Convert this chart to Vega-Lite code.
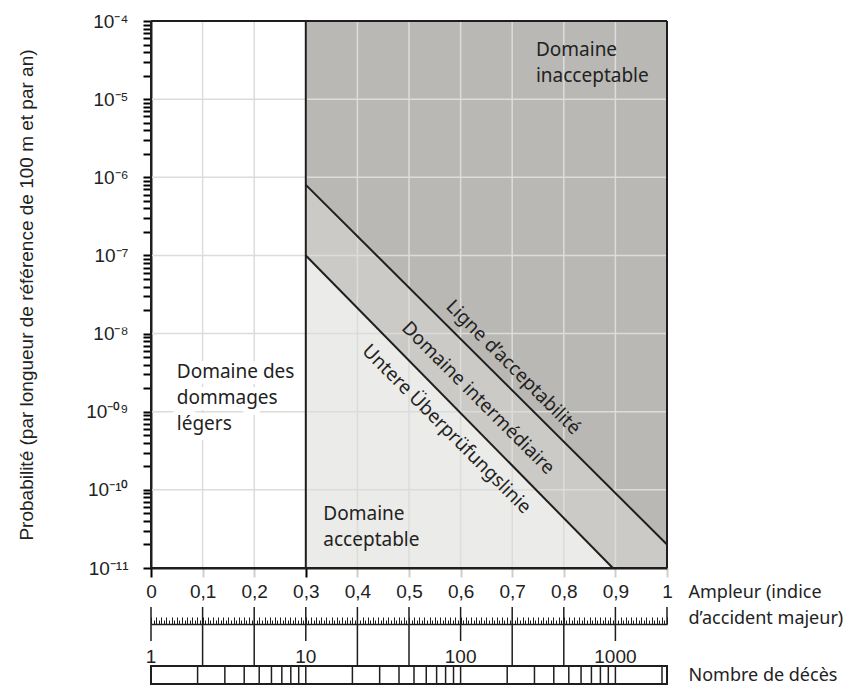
{
  "$schema": "https://vega.github.io/schema/vega-lite/v6.json",
  "background": "white",
  "padding": {"left": 17, "top": 12, "right": 0, "bottom": 0},
  "spacing": 39,
  "bounds": "flush",
  "datasets": {
    "zones": [{"zone": "Domaine inacceptable", "from": 0.3, "to": 1}],
    "scale": [
      {"index": 0, "kind": "decade"}, {"index": 0.1, "kind": "tenth"}, {"index": 0.2, "kind": "tenth"},
      {"index": 0.3, "kind": "decade"}, {"index": 0.4, "kind": "tenth"}, {"index": 0.5, "kind": "tenth"},
      {"index": 0.6, "kind": "decade"}, {"index": 0.7, "kind": "tenth"}, {"index": 0.8, "kind": "tenth"},
      {"index": 0.9, "kind": "decade"}, {"index": 1, "kind": "end"}
    ],
    "decades": [{"p": 1e-11}, {"p": 1e-10}, {"p": 1e-9}, {"p": 1e-8}, {"p": 1e-7}, {"p": 1e-6}, {"p": 1e-5}, {"p": 1e-4}],
    "lines": [
      {"line": "Ligne d’acceptabilité", "index": 0.3, "p": 8e-7},
      {"line": "Ligne d’acceptabilité", "index": 1, "p": 2e-11},
      {"line": "Untere Überprüfungslinie", "index": 0.3, "p": 1e-7},
      {"line": "Untere Überprüfungslinie", "index": 0.895, "p": 1e-11}
    ],
    "areas": [
      {"label": "Domaine\ninacceptable", "index": 0.746, "p": 3.6e-5},
      {"label": "Domaine\nacceptable", "index": 0.334, "p": 4.1e-11}
    ],
    "light": [
      {"label": "Domaine des\ndommages\nlégers", "index": 0.05, "p": 2.7e-9}
    ],
    "diag": [
      {"label": "Ligne d’acceptabilité", "index": 0.702, "p": 3.7e-9},
      {"label": "Domaine intermédiaire", "index": 0.634, "p": 1.5e-9},
      {"label": "Untere Überprüfungslinie", "index": 0.573, "p": 6.0e-10}
    ],
    "deathTicks": [
      {"deaths": 2}, {"deaths": 3}, {"deaths": 4}, {"deaths": 5}, {"deaths": 6}, {"deaths": 7}, {"deaths": 8}, {"deaths": 9},
      {"deaths": 10}, {"deaths": 20}, {"deaths": 30}, {"deaths": 40}, {"deaths": 50}, {"deaths": 60}, {"deaths": 70}, {"deaths": 80}, {"deaths": 90},
      {"deaths": 100}, {"deaths": 200}, {"deaths": 300}, {"deaths": 400}, {"deaths": 500}, {"deaths": 600}, {"deaths": 700}, {"deaths": 800}, {"deaths": 900},
      {"deaths": 1000}, {"deaths": 2000}
    ],
    "deathLabels": [{"deaths": 1}, {"deaths": 10}, {"deaths": 100}, {"deaths": 1000}]
  },
  "vconcat": [
    {
      "width": 516,
      "height": 547,
      "view": {"stroke": null},
      "layer": [
        {
          "data": {"name": "zones"},
          "mark": {"type": "rect", "color": "#b9b8b4"},
          "encoding": {
            "x": {"field": "from", "type": "quantitative", "scale": {"domain": [0, 1], "nice": false, "zero": false}},
            "x2": {"field": "to"},
            "y": {"datum": 1e-4, "type": "quantitative", "scale": {"type": "log", "domain": [1e-11, 1e-4], "nice": false}},
            "y2": {"datum": 1e-11}
          }
        },
        {
          "data": {"name": "lines"},
          "transform": [{"filter": "datum.line == 'Ligne d’acceptabilité'"}],
          "mark": {"type": "area", "color": "#cbcac6"},
          "encoding": {
            "x": {"field": "index", "type": "quantitative"},
            "y": {"field": "p", "type": "quantitative"},
            "y2": {"datum": 1e-11}
          }
        },
        {
          "data": {"name": "lines"},
          "transform": [{"filter": "datum.line == 'Untere Überprüfungslinie'"}],
          "mark": {"type": "area", "color": "#ebebe9"},
          "encoding": {
            "x": {"field": "index", "type": "quantitative"},
            "y": {"field": "p", "type": "quantitative"},
            "y2": {"datum": 1e-11}
          }
        },
        {
          "data": {"name": "scale"},
          "transform": [{"filter": "datum.index > 0 && datum.index < 1"}],
          "mark": {"type": "rule", "color": "#dcdcda", "strokeWidth": 1.5},
          "encoding": {
            "x": {
              "field": "index", "type": "quantitative",
              "axis": {
                "values": [0, 0.1, 0.2, 0.3, 0.4, 0.5, 0.6, 0.7, 0.8, 0.9, 1],
                "labelExpr": "replace(format(datum.value, '.1~f'), '.', ',')",
                "labelFont": "Liberation Sans", "labelFontSize": 19, "labelColor": "#222",
                "labelPadding": 5, "labelFlush": false,
                "ticks": true, "tickSize": 9, "tickWidth": 2, "tickOpacity": 1,
                "tickColor": {"condition": {"test": "datum.value < 0.01 || abs(datum.value - 0.3) < 0.01", "value": "#000000"}, "value": "#cfcfcd"},
                "domainColor": "#1e1e1e", "domainWidth": 2,
                "grid": false,
                "title": ["Ampleur (indice", "d’accident majeur)"],
                "titleFont": "Noto Sans", "titleFontSize": 18, "titleFontWeight": "normal", "titleColor": "#222",
                "titleAlign": "left", "titleBaseline": "top", "titleX": 537, "titleY": 15, "titleLineHeight": 26
              }
            }
          }
        },
        {
          "data": {"name": "decades"},
          "transform": [{"filter": "datum.p > 2e-11 && datum.p < 5e-5"}],
          "mark": {"type": "rule", "color": "#dcdcda", "strokeWidth": 1.5},
          "encoding": {
            "y": {
              "field": "p", "type": "quantitative",
              "axis": {
                "values": [1e-11, 2e-11, 3e-11, 4e-11, 5e-11, 6e-11, 7e-11, 8e-11, 9e-11,
                  1e-10, 2e-10, 3e-10, 4e-10, 5e-10, 6e-10, 7e-10, 8e-10, 9e-10,
                  1e-9, 2e-9, 3e-9, 4e-9, 5e-9, 6e-9, 7e-9, 8e-9, 9e-9,
                  1e-8, 2e-8, 3e-8, 4e-8, 5e-8, 6e-8, 7e-8, 8e-8, 9e-8,
                  1e-7, 2e-7, 3e-7, 4e-7, 5e-7, 6e-7, 7e-7, 8e-7, 9e-7,
                  1e-6, 2e-6, 3e-6, 4e-6, 5e-6, 6e-6, 7e-6, 8e-6, 9e-6,
                  1e-5, 2e-5, 3e-5, 4e-5, 5e-5, 6e-5, 7e-5, 8e-5, 9e-5, 1e-4],
                "labelExpr": "abs(datum.value / pow(10, round(log(datum.value) / LN10)) - 1) > 0.01 ? '' : '10' + ['⁻¹¹','⁻¹⁰','⁻⁰⁹','⁻⁸','⁻⁷','⁻⁶','⁻⁵','⁻⁴'][round(log(datum.value) / LN10) + 11]",
                "labelFont": "Liberation Sans", "labelFontSize": 19, "labelColor": "#222",
                "labelPadding": 15,
                "ticks": true, "tickSize": 8, "tickWidth": 2, "tickColor": "#000000", "tickOpacity": 1,
                "domainColor": "#1e1e1e", "domainWidth": 2,
                "grid": false,
                "title": "Probabilité (par longueur de référence de 100 m et par an)",
                "titleFont": "Liberation Sans", "titleFontSize": 19, "titleFontWeight": "normal", "titleColor": "#222",
                "titleX": -125, "titleBaseline": "middle"
              }
            }
          }
        },
        {
          "data": {"name": "light"},
          "mark": {"type": "text", "font": "Noto Sans", "fontSize": 19, "align": "left", "baseline": "alphabetic", "lineBreak": "\n", "lineHeight": 26, "color": "white", "stroke": "white", "strokeWidth": 12, "strokeJoin": "round"},
          "encoding": {
            "x": {"field": "index", "type": "quantitative"},
            "y": {"field": "p", "type": "quantitative"},
            "text": {"field": "label"}
          }
        },
        {
          "data": {"name": "zones"},
          "mark": {"type": "rule", "color": "#1e1e1e", "strokeWidth": 2},
          "encoding": {"x": {"field": "from", "type": "quantitative"}}
        },
        {
          "data": {"name": "zones"},
          "mark": {"type": "rule", "color": "#1e1e1e", "strokeWidth": 2},
          "encoding": {"x": {"field": "to", "type": "quantitative"}}
        },
        {
          "data": {"name": "zones"},
          "mark": {"type": "rule", "color": "#1e1e1e", "strokeWidth": 2},
          "encoding": {"y": {"datum": 1e-4, "type": "quantitative"}}
        },
        {
          "data": {"name": "zones"},
          "mark": {"type": "rule", "color": "#1e1e1e", "strokeWidth": 2},
          "encoding": {"y": {"datum": 1e-11, "type": "quantitative"}}
        },
        {
          "data": {"name": "zones"},
          "mark": {"type": "rule", "color": "#1e1e1e", "strokeWidth": 2},
          "encoding": {"x": {"datum": 0, "type": "quantitative"}}
        },
        {
          "data": {"name": "lines"},
          "mark": {"type": "line", "color": "#1e1e1e", "strokeWidth": 2},
          "encoding": {
            "x": {"field": "index", "type": "quantitative"},
            "y": {"field": "p", "type": "quantitative"},
            "detail": {"field": "line"}
          }
        },
        {
          "data": {"name": "light"},
          "mark": {"type": "text", "font": "Noto Sans", "fontSize": 19, "align": "left", "baseline": "alphabetic", "lineBreak": "\n", "lineHeight": 26, "color": "#222"},
          "encoding": {
            "x": {"field": "index", "type": "quantitative"},
            "y": {"field": "p", "type": "quantitative"},
            "text": {"field": "label"}
          }
        },
        {
          "data": {"name": "areas"},
          "mark": {"type": "text", "font": "Noto Sans", "fontSize": 19, "align": "left", "baseline": "alphabetic", "lineBreak": "\n", "lineHeight": 26, "color": "#222"},
          "encoding": {
            "x": {"field": "index", "type": "quantitative"},
            "y": {"field": "p", "type": "quantitative"},
            "text": {"field": "label"}
          }
        },
        {
          "data": {"name": "diag"},
          "mark": {"type": "text", "font": "Noto Sans", "fontSize": 19, "align": "center", "baseline": "middle", "angle": 45, "color": "#222"},
          "encoding": {
            "x": {"field": "index", "type": "quantitative"},
            "y": {"field": "p", "type": "quantitative"},
            "text": {"field": "label"}
          }
        }
      ]
    },
    {
      "spacing": 0,
      "bounds": "flush",
      "vconcat": [
        {
          "width": 516,
          "height": 17,
          "view": {"stroke": null},
          "data": {"name": "scale"},
          "mark": {"type": "rule", "color": "#1e1e1e", "strokeWidth": 1.5},
          "encoding": {"x": {"field": "index", "type": "quantitative", "scale": {"domain": [0, 1], "nice": false, "zero": false}, "axis": null}}
        },
        {
          "width": 516,
          "height": 17,
          "view": {"stroke": null},
          "data": {"name": "scale"},
          "transform": [{"filter": "datum.kind != 'end'"}],
          "mark": {"type": "rule", "color": "#1e1e1e", "strokeWidth": 1.5},
          "encoding": {
            "x": {
              "field": "index", "type": "quantitative",
              "scale": {"domain": [0, 1], "nice": false, "zero": false},
              "axis": {
                "orient": "top", "tickCount": 200, "labels": false, "title": null, "grid": false,
                "domainColor": "#1e1e1e", "domainWidth": 1.5,
                "tickColor": "#1e1e1e", "tickWidth": 1, "tickOpacity": 1,
                "tickSize": {"condition": {"test": "abs(datum.value * 100 - round(datum.value * 100)) < 0.01", "value": 7}, "value": 4}
              }
            }
          }
        },
        {
          "width": 516,
          "height": 25,
          "view": {"stroke": null},
          "layer": [
            {
              "data": {"name": "scale"},
              "transform": [{"filter": "datum.kind == 'tenth'"}],
              "mark": {"type": "rule", "color": "#1e1e1e", "strokeWidth": 1.5},
              "encoding": {"x": {"field": "index", "type": "quantitative", "scale": {"domain": [0, 1], "nice": false, "zero": false}, "axis": null}}
            },
            {
              "data": {"name": "deathLabels"},
              "mark": {"type": "text", "font": "Liberation Sans", "fontSize": 19, "color": "#222", "baseline": "middle", "align": "center", "dy": 3},
              "encoding": {
                "x": {"field": "deaths", "type": "quantitative", "scale": {"type": "log", "domain": [1, 2154.4347], "nice": false}, "axis": null},
                "text": {"field": "deaths", "type": "quantitative", "format": "d"}
              }
            }
          ],
          "resolve": {"scale": {"x": "independent"}}
        },
        {
          "width": 516,
          "height": 18,
          "view": {"stroke": "#1e1e1e", "strokeWidth": 2},
          "data": {"name": "deathTicks"},
          "mark": {"type": "rule", "color": "#1e1e1e", "strokeWidth": 1.5},
          "encoding": {
            "x": {
              "field": "deaths", "type": "quantitative",
              "scale": {"type": "log", "domain": [1, 2154.4347], "nice": false},
              "axis": {
                "ticks": false, "labels": false, "domain": false, "grid": false,
                "title": "Nombre de décès",
                "titleFont": "Noto Sans", "titleFontSize": 18, "titleFontWeight": "normal", "titleColor": "#222",
                "titleAlign": "left", "titleBaseline": "middle", "titleX": 537, "titleY": -9
              }
            }
          }
        }
      ]
    }
  ]
}
